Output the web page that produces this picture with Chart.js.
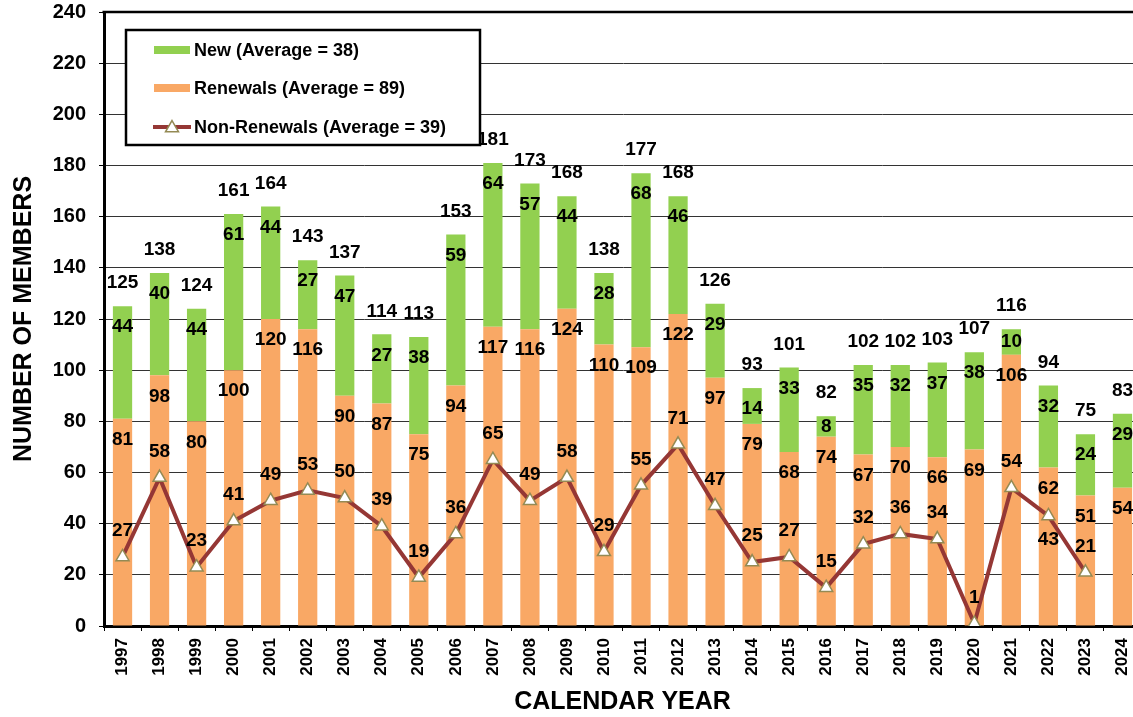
<!DOCTYPE html>
<html><head><meta charset="utf-8">
<script src="https://cdn.jsdelivr.net/npm/chart.js@4.4.1/dist/chart.umd.min.js"></script>
<style>
html,body{margin:0;padding:0;background:#fff;overflow:hidden;width:1133px;height:717px}
#wrap{position:absolute;left:0;top:0;width:1160px;height:717px}
</style>
</head><body><div id="wrap"><canvas id="c" width="1160" height="717"></canvas></div>
<script>
const years = ['1997','1998','1999','2000','2001','2002','2003','2004','2005','2006','2007','2008','2009','2010','2011','2012','2013','2014','2015','2016','2017','2018','2019','2020','2021','2022','2023','2024'];
const renewals = [81,98,80,100,120,116,90,87,75,94,117,116,124,110,109,122,97,79,68,74,67,70,66,69,106,62,51,54];
const newMembers = [44,40,44,61,44,27,47,27,38,59,64,57,44,28,68,46,29,14,33,8,35,32,37,38,10,32,24,29];
const totals = [125,138,124,161,164,143,137,114,113,153,181,173,168,138,177,168,126,93,101,82,102,102,103,107,116,94,75,83];
const nonRenewals = [27,58,23,41,49,53,50,39,19,36,65,49,58,29,55,71,47,25,27,15,32,36,34,1,54,43,21,null];
const seriesNames = ['New (Average = 38)','Renewals (Average = 89)','Non-Renewals (Average = 39)'];
const yTitle = 'NUMBER OF MEMBERS';
const xTitle = 'CALENDAR YEAR';

const FONT = '"Liberation Sans", Arial, Helvetica, sans-serif';
const GREEN = '#92D050', ORANGE = '#F9A865', LINE = '#953735', MARK = '#948A54';

function tri(ctx, x, y, r) {
  ctx.beginPath();
  ctx.moveTo(x, y - r);
  ctx.lineTo(x + r * Math.sin(2*Math.PI/3), y - r * Math.cos(2*Math.PI/3));
  ctx.lineTo(x + r * Math.sin(4*Math.PI/3), y - r * Math.cos(4*Math.PI/3));
  ctx.closePath();
}

const labelPlugin = {
  id: 'valueLabels',
  afterDatasetsDraw(chart) {
    const ctx = chart.ctx, xs = chart.scales.x, ys = chart.scales.y;
    ctx.save();
    ctx.font = 'bold 19px ' + FONT;
    ctx.fillStyle = '#000';
    ctx.textAlign = 'center';
    ctx.textBaseline = 'middle';
    years.forEach((yr, i) => {
      const cx = xs.getPixelForValue(i);
      const pr = ys.getPixelForValue(renewals[i]);
      const pt = ys.getPixelForValue(totals[i]);
      ctx.fillText(String(totals[i]), cx, pt - 23);
      const seg = pr - pt;
      ctx.fillText(String(newMembers[i]), cx, pt + (seg >= 32 ? 21 : seg / 2));
      const rl = pr + 21;
      ctx.fillText(String(renewals[i]), cx, rl);
      if (nonRenewals[i] !== null) {
        const pn = ys.getPixelForValue(nonRenewals[i]);
        let ly = pn - 26;
        if (Math.abs(ly - rl) < 20) ly = pn + 24;
        ctx.fillText(String(nonRenewals[i]), cx, ly);
      }
    });
    ctx.restore();
  }
};

const framePlugin = {
  id: 'frameLegend',
  afterDraw(chart) {
    const ctx = chart.ctx, a = chart.chartArea;
    ctx.save();
    ctx.strokeStyle = '#000';
    ctx.lineWidth = 2.5;
    ctx.beginPath();
    ctx.moveTo(a.left - 1.5, a.top);
    ctx.lineTo(a.right, a.top);
    ctx.stroke();
    const bx = a.left + 22, by = a.top + 18, bw = 354, bh = 115;
    ctx.fillStyle = '#fff';
    ctx.fillRect(bx, by, bw, bh);
    ctx.lineWidth = 2.5;
    ctx.strokeRect(bx, by, bw, bh);
    const rows = [by + 20, by + 58, by + 97];
    ctx.fillStyle = GREEN;
    ctx.fillRect(bx + 28, rows[0] - 4, 36, 8);
    ctx.fillStyle = ORANGE;
    ctx.fillRect(bx + 28, rows[1] - 4, 36, 8);
    ctx.strokeStyle = LINE;
    ctx.lineWidth = 4;
    ctx.beginPath();
    ctx.moveTo(bx + 27, rows[2]);
    ctx.lineTo(bx + 65, rows[2]);
    ctx.stroke();
    tri(ctx, bx + 46, rows[2] + 1, 7.5);
    ctx.fillStyle = '#fff';
    ctx.fill();
    ctx.strokeStyle = MARK;
    ctx.lineWidth = 1.5;
    ctx.stroke();
    ctx.fillStyle = '#000';
    ctx.font = 'bold 18px ' + FONT;
    ctx.textAlign = 'left';
    ctx.textBaseline = 'middle';
    seriesNames.forEach((n, k) => ctx.fillText(n, bx + 68, rows[k] + 1));
    ctx.restore();
  }
};

new Chart(document.getElementById('c'), {
  data: {
    labels: years,
    datasets: [
      {
        type: 'line', label: seriesNames[2], data: nonRenewals, order: 0, stack: 'nr',
        borderColor: LINE, borderWidth: 4, tension: 0, fill: false,
        pointStyle: 'triangle', pointRadius: 7.5, pointHoverRadius: 7.5,
        pointBackgroundColor: '#fff', pointBorderColor: MARK, pointBorderWidth: 1.5
      },
      {
        type: 'bar', label: seriesNames[1], data: renewals, order: 1, stack: 'm',
        backgroundColor: ORANGE, borderWidth: 0,
        categoryPercentage: 1, barPercentage: 0.52
      },
      {
        type: 'bar', label: seriesNames[0], data: newMembers, order: 2, stack: 'm',
        backgroundColor: GREEN, borderWidth: 0,
        categoryPercentage: 1, barPercentage: 0.52
      }
    ]
  },
  options: {
    responsive: false,
    animation: false,
    devicePixelRatio: 1,
    layout: { padding: { left: 0, top: 12, right: 19, bottom: 0 } },
    plugins: { legend: { display: false }, tooltip: { enabled: false } },
    events: [],
    scales: {
      x: {
        stacked: true,
        afterFit(s) { s.height = 91; s.paddingLeft = 0; s.paddingRight = 0; },
        grid: { drawOnChartArea: false, drawTicks: true, tickLength: 5, tickColor: '#000', offset: true },
        border: { display: true, color: '#000', width: 3 },
        ticks: {
          autoSkip: false, minRotation: 90, maxRotation: 90, padding: 7, color: '#000',
          font: { family: FONT, size: 17, weight: 'bold', lineHeight: 1 }
        },
        title: {
          display: true, text: xTitle, color: '#000',
          font: { family: FONT, size: 25, weight: 'bold', lineHeight: 1.2 },
          padding: { top: 0, bottom: 0 }
        }
      },
      y: {
        stacked: true,
        min: 0, max: 240,
        afterFit(s) { s.width = 104; s.paddingTop = 0; s.paddingBottom = 0; },
        grid: { color: '#333', lineWidth: 1, tickLength: 5, tickColor: '#000' },
        border: { display: true, color: '#000', width: 3 },
        ticks: {
          stepSize: 20, padding: 13, color: '#000',
          font: { family: FONT, size: 20, weight: 'bold', lineHeight: 1 }
        },
        title: {
          display: true, text: yTitle, color: '#000',
          font: { family: FONT, size: 25, weight: 'bold', lineHeight: 1.2 },
          padding: { top: 9, bottom: 0 }
        }
      }
    }
  },
  plugins: [labelPlugin, framePlugin]
});
</script>
</body></html>
